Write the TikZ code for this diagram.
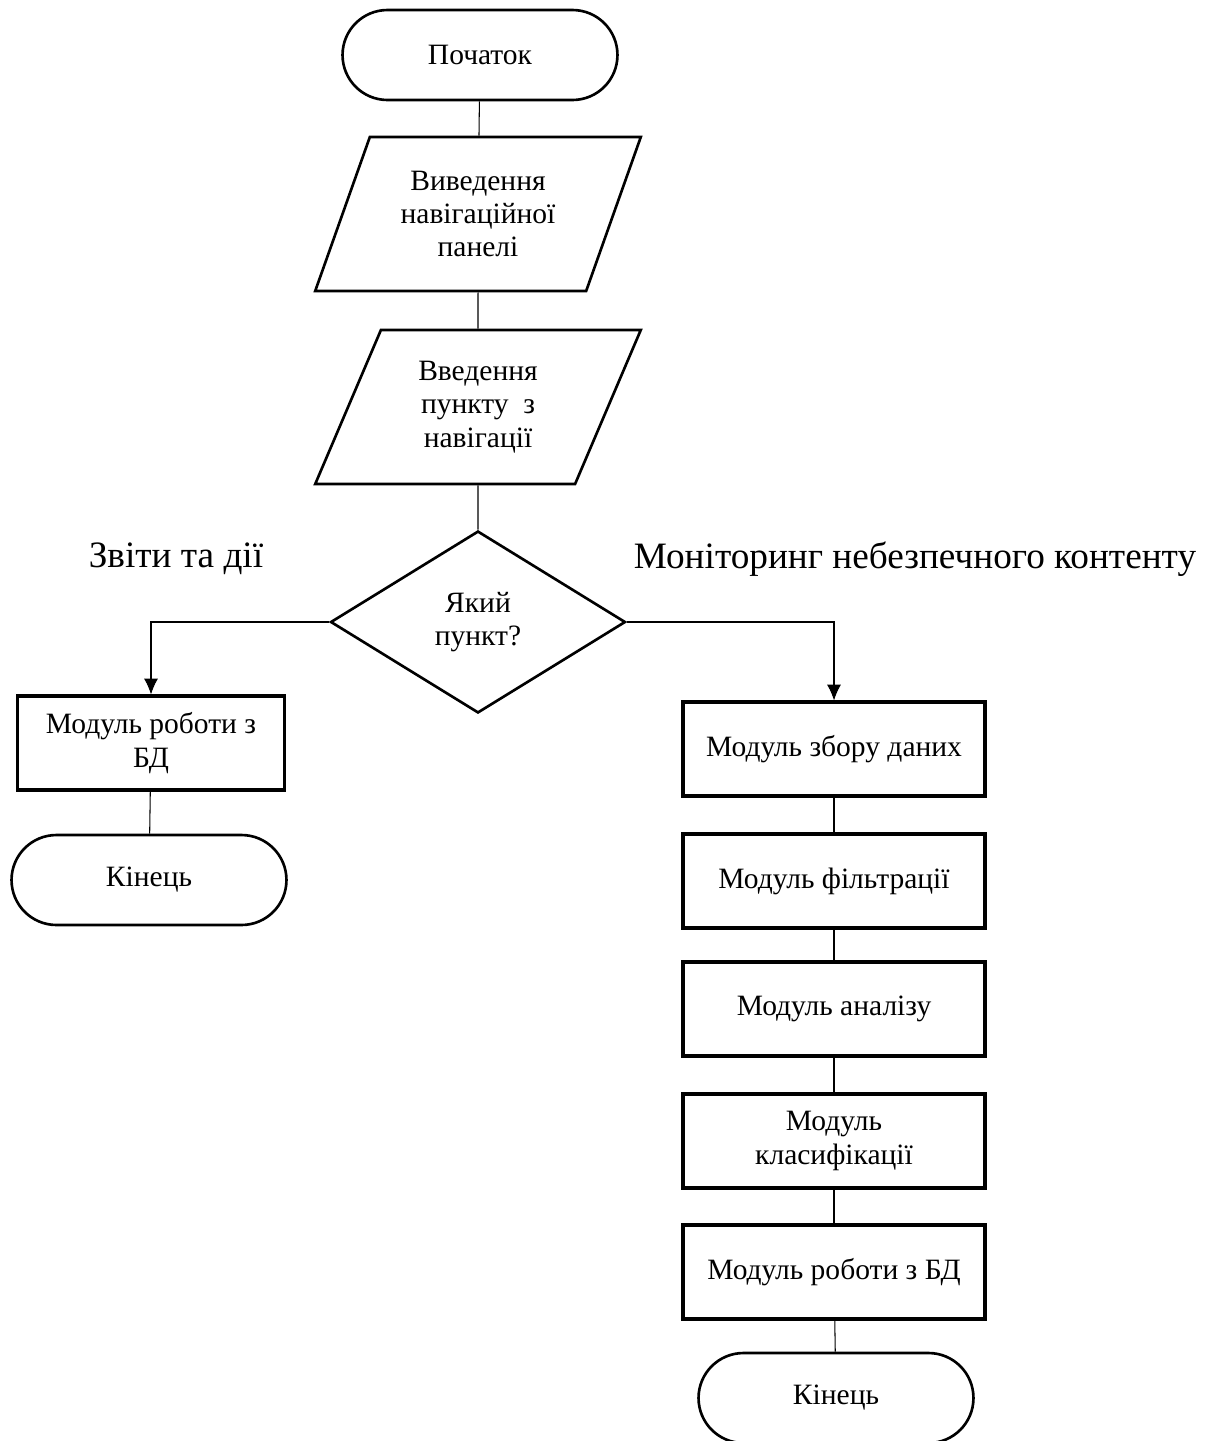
\documentclass[tikz,border=0pt]{standalone}
\usepackage{fontspec}
\setmainfont{Liberation Serif}
\usetikzlibrary{shapes.geometric,arrows.meta}

\begin{document}
\begin{tikzpicture}[>={Latex[length=9pt,width=8pt]}, x=0.02cm, y=-0.02cm,
    every node/.style={font=\fontsize{16.8}{19}\selectfont, align=center},
    term/.style={draw, line width=1.5pt, rounded corners=0.9cm, minimum width=5.5cm, minimum height=1.8cm},
    io/.style={draw, line width=1.5pt, trapezium, trapezium left angle=66.8, trapezium right angle=113.2,
        trapezium stretches=true, minimum width=6.52cm, minimum height=3.08cm},
    decide/.style={draw, line width=1.5pt, diamond, minimum width=5.9cm, minimum height=3.64cm},
    proc/.style={draw, line width=1.8pt, rectangle, minimum width=6.04cm, minimum height=1.88cm},
    branchtext/.style={font=\fontsize{21.2}{25}\selectfont},
    link/.style={line width=0.6pt},
    thicklink/.style={line width=1.1pt}]
    \useasboundingbox (0,0) rectangle (1215,1441);

    % Початок і введення
    \node[term] (start) at (480,55) {Початок};
    \node[io] (nav) at (478,214) {Виведення\\навігаційної\\панелі};
    \node[io] (item) at (478,407) {Введення\\пункту~ з\\навігації};
    \node[decide] (which) at (478,622) {Який\\пункт?};

    % Гілка звітів
    \node[branchtext] (reports) at (176,559) {Звіти та дії};
    \node[proc, minimum width=5.34cm] (ldb) at (151,743) {Модуль роботи з\\БД};
    \node[term] (lend) at (149,880) {Кінець};

    % Гілка моніторингу
    \node[branchtext] (monitor) at (915,559) {Моніторинг небезпечного контенту};
    \node[proc] (collect) at (834,749) {Модуль збору даних};
    \node[proc] (filter) at (834,881) {Модуль фільтрації};
    \node[proc] (analyse) at (834,1009) {Модуль аналізу};
    \node[proc] (classify) at (834,1141) {Модуль\\класифікації};
    \node[proc] (rdb) at (834,1272) {Модуль роботи з БД};
    \node[term] (rend) at (836,1398) {Кінець};

    % З'єднання
    \draw[link] (start) -- (nav);
    \draw[link] (nav) -- (item);
    \draw[link] (item) -- (which);
    \draw[link,->] (which.west) -| (ldb.north);
    \draw[link] (ldb) -- (lend);
    \draw[link,->] (which.east) -| (collect.north);
    \foreach \a/\b in {collect/filter, filter/analyse, analyse/classify, classify/rdb}
        \draw[thicklink] (\a) -- (\b);
    \draw[link] (rdb) -- (rend);
\end{tikzpicture}
\end{document}
